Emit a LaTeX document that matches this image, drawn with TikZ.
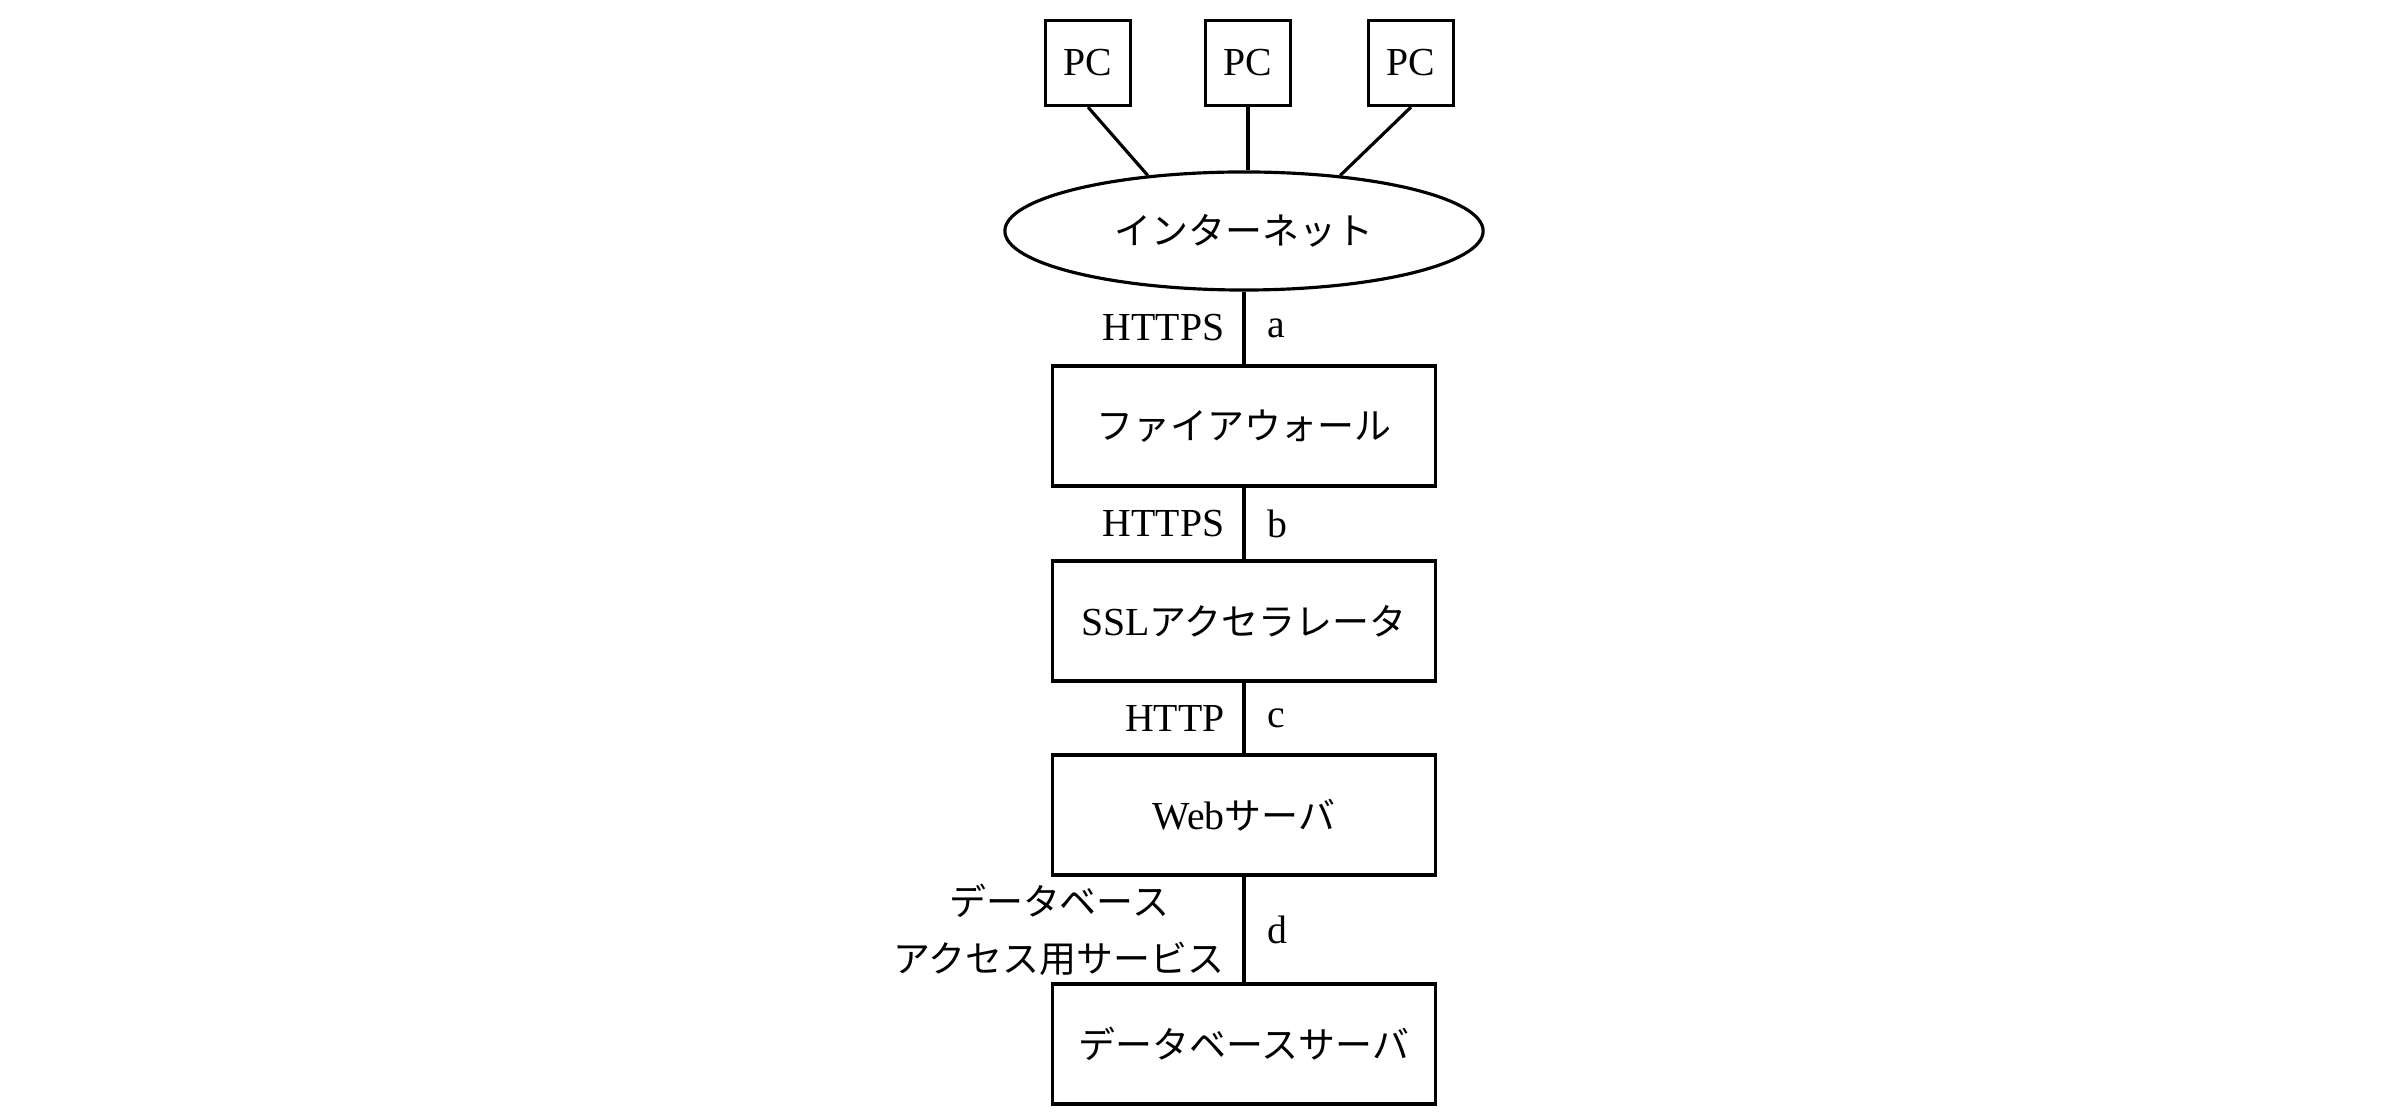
\documentclass[tikz,border=0pt]{standalone}
\usepackage{fontspec}
\setmainfont{Liberation Serif}
\newfontfamily\jpfont{Noto Sans CJK JP}[Scale=0.93]
\usetikzlibrary{shapes.geometric}
\begin{document}
\begin{tikzpicture}[x=0.01cm,y=-0.01cm, line width=0.9pt,
  every node/.style={font=\fontsize{11.3}{16.2}\selectfont},
  pcbox/.style={draw, minimum width=0.85cm, minimum height=0.85cm, inner sep=0},
  devbox/.style={draw, minimum width=3.83cm, minimum height=1.2cm, inner sep=0},
  cloud/.style={draw, ellipse, minimum width=4.78cm, minimum height=1.18cm, inner sep=0},
  proto/.style={anchor=east, inner sep=0, xshift=-0.18cm},
  tag/.style={anchor=west, inner sep=0, xshift=0.22cm}]
\fill[white] (0,0) rectangle (2402,1116);
\useasboundingbox (0,0) rectangle (2402,1116);

\node[pcbox] (pc1) at (1088,63) {PC};
\node[pcbox] (pc2) at (1248,63) {PC};
\node[pcbox] (pc3) at (1411,63) {PC};

\node[cloud] (inet) at (1244,231) {\jpfont インターネット};

\node[devbox] (fw)  at (1244,426) {\jpfont ファイアウォール};
\node[devbox] (ssl) at (1244,621) {SSL{\jpfont アクセラレータ}};
\node[devbox] (web) at (1244,815) {Web{\jpfont サーバ}};
\node[devbox] (db)  at (1244,1044) {\jpfont データベースサーバ};

\draw (pc1.south) -- (inet.150);
\draw (pc2.south) -- (pc2.south |- inet.north);
\draw (pc3.south) -- (inet.30);

\draw (inet.south) -- node[proto] {HTTPS} node[tag] {a} (fw.north);
\draw (fw.south) -- node[proto] {HTTPS} node[tag] {b} (ssl.north);
\draw (ssl.south) -- node[proto] {HTTP} node[tag] {c} (web.north);
\draw (web.south) -- node[proto, align=center] {\jpfont データベース\\\jpfont アクセス用サービス} node[tag] {d} (db.north);
\end{tikzpicture}
\end{document}
